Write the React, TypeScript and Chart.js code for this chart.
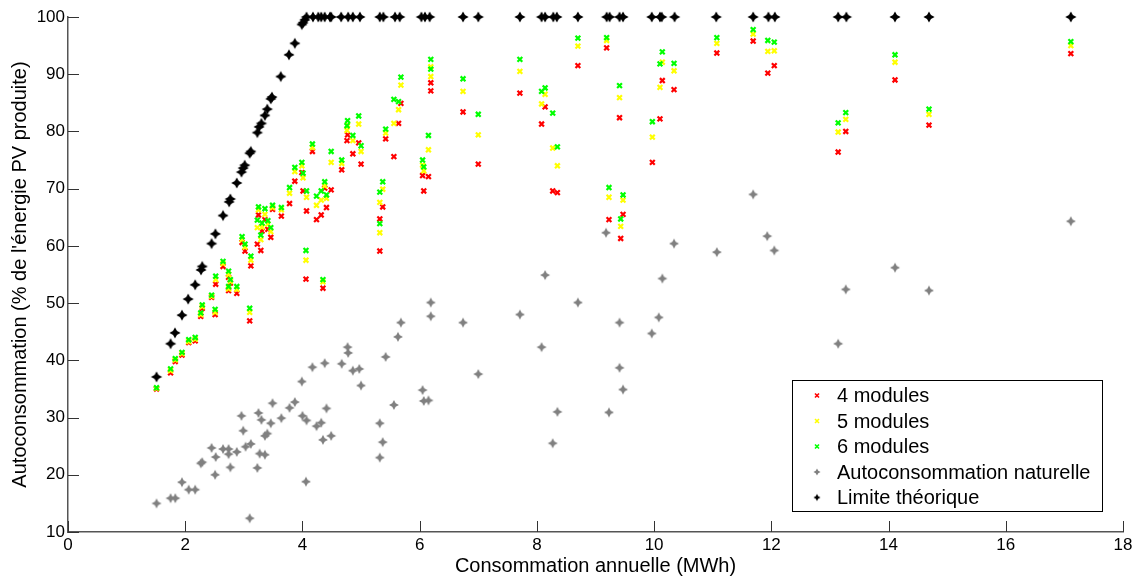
import React, { useEffect, useRef } from "react";
import { Chart, registerables } from "chart.js";

Chart.register(...registerables);

// ---------- Data ----------
const xTickValues = [0, 2, 4, 6, 8, 10, 12, 14, 16, 18];
const yTickValues = [10, 20, 30, 40, 50, 60, 70, 80, 90, 100];

const householdX = [
  1.51, 1.75, 1.83, 1.945, 2.06, 2.17, 2.265, 2.29, 2.45, 2.51,
  2.52, 2.645, 2.74, 2.77, 2.74, 2.88, 2.97, 3.02, 3.1, 3.12,
  3.23, 3.25, 3.29, 3.31, 3.36, 3.41, 3.46, 3.49, 3.64, 3.78,
  3.87, 3.99, 4.01, 4.07, 4.06, 4.17, 4.24, 4.32, 4.35, 4.38,
  4.41, 4.49, 4.67, 4.77, 4.76, 4.86, 4.96, 5.0, 5.37, 5.32,
  5.32, 5.42, 5.56, 5.64, 5.68, 6.05, 6.07, 6.15, 6.19, 6.19,
  6.74, 7.0, 7.71, 8.08, 8.14, 8.27, 8.35, 8.7, 9.19, 9.23,
  9.41, 9.43, 9.47, 9.97, 10.1, 10.14, 10.34, 11.07, 11.69, 11.94,
  12.05, 13.14, 13.27, 14.11, 14.69, 17.11,
];

const modules4 = [
  35.0, 37.8, 39.8, 40.9, 43.1, 43.4, 47.7, 49.1, 51.0, 48.0,
  53.3, 56.4, 54.5, 53.5, 52.2, 51.7, 60.6, 59.1, 46.9, 56.5,
  60.3, 65.4, 59.2, 62.6, 64.6, 62.9, 61.5, 66.4, 65.2, 67.4,
  71.3, 72.8, 69.6, 66.1, 54.2, 76.5, 64.6, 65.4, 52.6, 70.1,
  66.7, 69.8, 73.3, 79.4, 78.4, 76.1, 78.0, 74.3, 66.8, 64.7,
  59.1, 78.7, 75.6, 81.4, 84.9, 72.3, 69.6, 72.1, 88.5, 87.1,
  83.4, 74.3, 86.7, 81.3, 84.3, 69.6, 69.3, 91.5, 94.6, 64.6,
  82.4, 61.3, 65.5, 74.6, 82.2, 88.9, 87.3, 93.7, 95.8, 90.2,
  91.5, 76.4, 80.0, 89.0, 81.1, 93.6,
];

const modules5 = [
  35.1, 38.2, 40.1, 41.2, 43.3, 43.7, 48.0, 49.4, 51.2, 48.4,
  54.1, 56.9, 55.0, 53.8, 52.5, 52.4, 61.1, 59.8, 48.4, 57.5,
  63.2, 66.3, 61.1, 63.3, 65.5, 63.8, 62.5, 66.7, 66.3, 69.2,
  73.0, 74.0, 71.9, 68.5, 57.5, 77.2, 67.1, 68.0, 53.7, 70.5,
  68.3, 74.6, 74.4, 81.1, 80.2, 78.4, 81.3, 76.5, 69.9, 67.6,
  62.3, 79.7, 81.4, 83.8, 88.1, 74.1, 73.1, 76.8, 91.3, 89.6,
  87.0, 79.4, 90.5, 84.8, 86.5, 77.1, 74.0, 94.9, 95.9, 68.5,
  85.9, 63.4, 68.0, 79.0, 87.7, 92.1, 90.6, 95.4, 97.0, 94.0,
  94.1, 79.9, 82.1, 92.1, 83.0, 95.0,
];

const modules6 = [
  35.2, 38.5, 40.3, 41.4, 43.6, 44.0, 48.3, 49.7, 51.4, 48.9,
  54.7, 57.3, 55.6, 54.1, 52.9, 52.9, 61.6, 60.3, 49.1, 58.2,
  64.5, 66.8, 61.9, 64.0, 66.5, 64.4, 63.2, 67.1, 66.7, 70.2,
  73.7, 74.6, 72.7, 69.6, 59.2, 77.8, 68.7, 69.6, 54.1, 71.2,
  68.9, 76.5, 75.0, 81.9, 81.0, 79.3, 82.7, 77.5, 71.2, 69.4,
  63.9, 80.4, 85.6, 85.2, 89.5, 75.0, 73.8, 79.3, 92.6, 90.9,
  89.2, 83.0, 92.6, 87.0, 87.6, 83.2, 77.3, 96.3, 96.4, 70.2,
  88.0, 64.7, 68.9, 81.7, 91.8, 93.9, 91.9, 96.4, 97.8, 95.9,
  95.6, 81.5, 83.3, 93.4, 83.9, 95.7,
];

const naturelleX = [
  1.51, 1.75, 1.83, 1.945, 2.06, 2.17, 2.265, 2.29, 2.45, 2.51,
  2.52, 2.645, 2.74, 2.74, 2.77, 2.88, 2.96, 2.99, 3.03, 3.1,
  3.12, 3.23, 3.25, 3.3, 3.27, 3.36, 3.36, 3.4, 3.46, 3.49,
  3.64, 3.78, 3.87, 3.99, 4.0, 4.07, 4.06, 4.17, 4.24, 4.32,
  4.35, 4.38, 4.41, 4.49, 4.67, 4.77, 4.78, 4.86, 4.97, 5.0,
  5.32, 5.37, 5.32, 5.42, 5.56, 5.63, 5.68, 6.05, 6.07, 6.15,
  6.19, 6.19, 6.74, 7.0, 7.71, 8.08, 8.14, 8.27, 8.35, 8.7,
  9.18, 9.23, 9.41, 9.41, 9.47, 9.96, 10.08, 10.14, 10.34, 11.07,
  11.69, 11.93, 12.05, 13.14, 13.27, 14.11, 14.69, 17.11,
];
const naturelleY = [
  15.0, 15.9, 15.9, 18.7, 17.4, 17.4, 22.0, 22.2, 24.7, 20.0,
  23.1, 24.5, 24.5, 23.6, 21.3, 24.0, 30.3, 27.7, 24.9, 12.4,
  25.4, 21.2, 30.8, 29.6, 23.7, 23.5, 26.8, 27.2, 29.0, 32.5,
  29.9, 31.7, 32.7, 36.3, 30.3, 29.5, 18.8, 38.8, 28.5, 29.1,
  26.1, 39.5, 31.6, 26.8, 39.4, 42.3, 41.3, 38.2, 38.5, 35.6,
  29.0, 25.7, 23.0, 40.6, 32.2, 44.1, 46.6, 34.8, 32.9, 33.0,
  50.1, 47.7, 46.6, 37.6, 48.0, 42.3, 54.9, 25.5, 31.0, 50.1,
  62.3, 30.9, 46.6, 38.7, 34.9, 44.7, 47.5, 54.3, 60.4, 58.9,
  69.0, 61.7, 59.2, 42.9, 52.4, 56.2, 52.2, 64.3,
];

const limiteX = [
  1.51, 1.75, 1.825, 1.945, 2.05, 2.17, 2.27, 2.29, 2.45, 2.515,
  2.645, 2.75, 2.77, 2.88, 2.96, 2.99, 3.015, 3.1, 3.12, 3.23,
  3.26, 3.3, 3.36, 3.4, 3.46, 3.48, 3.63, 3.77, 3.87, 3.99,
  4.01, 4.04,
  4.07, 4.18, 4.27, 4.32, 4.38, 4.47, 4.49, 4.66, 4.78, 4.86,
  4.98, 5.32, 5.38, 5.58, 5.66, 6.03, 6.09, 6.17, 6.74, 7.0,
  7.71, 8.08, 8.14, 8.28, 8.34, 8.7, 9.19, 9.24, 9.41, 9.47,
  9.96, 10.1, 10.13, 10.35, 11.06, 11.69, 11.95, 12.06, 13.14, 13.28,
  14.11, 14.69, 17.11,
];
const limiteY = [
  37.1, 42.9, 44.8, 47.9, 50.7, 53.2, 55.8, 56.4, 60.4, 62.1,
  65.3, 67.7, 68.2, 71.0, 72.9, 73.6, 74.1, 76.2, 76.5, 79.8,
  80.8, 81.4, 82.8, 83.9, 85.7, 86.0, 89.6, 93.4, 95.4, 98.7,
  99.0, 99.5,
  100, 100, 100, 100, 100, 100, 100, 100, 100, 100,
  100, 100, 100, 100, 100, 100, 100, 100, 100, 100,
  100, 100, 100, 100, 100, 100, 100, 100, 100, 100,
  100, 100, 100, 100, 100, 100, 100, 100, 100, 100,
  100, 100, 100,
];

const seriesLabels = [
  "4 modules",
  "5 modules",
  "6 modules",
  "Autoconsommation naturelle",
  "Limite théorique",
];
const xTitle = "Consommation annuelle (MWh)";
const yTitle = "Autoconsommation (% de l'énergie PV produite)";

const FONT = '"Liberation Sans", Arial, Helvetica, sans-serif';

function makeStar(color: string, R: number, innerRatio: number): HTMLCanvasElement {
  const c = document.createElement("canvas");
  const s = Math.ceil(2 * R + 2);
  c.width = s;
  c.height = s;
  const ctx = c.getContext("2d")!;
  const cx = s / 2;
  const cy = s / 2;
  const r = R * innerRatio;
  ctx.fillStyle = color;
  ctx.beginPath();
  for (let k = 0; k < 8; k++) {
    const a = (k * Math.PI) / 4 - Math.PI / 2;
    const rr = k % 2 === 0 ? R : r;
    const px = cx + rr * Math.cos(a);
    const py = cy + rr * Math.sin(a);
    if (k === 0) ctx.moveTo(px, py);
    else ctx.lineTo(px, py);
  }
  ctx.closePath();
  ctx.fill();
  return c;
}

function pairs(xs: number[], ys: number[]) {
  return xs.map((x, i) => ({ x, y: ys[i] }));
}

export default function App() {
  const ref = useRef<HTMLCanvasElement>(null);

  useEffect(() => {
    const blackStar = makeStar("#000000", 5.6, 0.5);
    const grayStar = makeStar("#808080", 5.0, 0.48);
    const blackStarSmall = makeStar("#000000", 3.6, 0.5);
    const grayStarSmall = makeStar("#808080", 3.6, 0.5);

    const legendMarkers: any[] = [
      { kind: "x", color: "#ff0000" },
      { kind: "x", color: "#ffff00" },
      { kind: "x", color: "#00ff00" },
      { kind: "img", img: grayStarSmall },
      { kind: "img", img: blackStarSmall },
    ];

    const tickPlugin = {
      id: "innerTicks",
      beforeDatasetsDraw(chart: any) {
        const { ctx, chartArea } = chart;
        const xs = chart.scales.x;
        const ys = chart.scales.y;
        ctx.save();
        ctx.strokeStyle = "#333333";
        ctx.lineWidth = 1;
        ctx.beginPath();
        for (const t of xs.ticks) {
          const px = Math.round(xs.getPixelForValue(t.value)) + 0.5;
          ctx.moveTo(px, chartArea.bottom);
          ctx.lineTo(px, chartArea.bottom - 11);
        }
        for (const t of ys.ticks) {
          const py = Math.round(ys.getPixelForValue(t.value)) + 0.5;
          ctx.moveTo(chartArea.left, py);
          ctx.lineTo(chartArea.left + 11, py);
        }
        ctx.stroke();
        ctx.restore();
      },
    };

    const legendPlugin = {
      id: "boxLegend",
      afterDraw(chart: any) {
        const { ctx, chartArea } = chart;
        const w = 310;
        const h = 131;
        const right = chartArea.right - 21;
        const bottom = chartArea.bottom - 21;
        const left = right - w;
        const top = bottom - h;
        ctx.save();
        ctx.fillStyle = "#ffffff";
        ctx.fillRect(left, top, w, h);
        ctx.strokeStyle = "#000000";
        ctx.lineWidth = 1;
        ctx.strokeRect(Math.round(left) + 0.5, Math.round(top) + 0.5, w, h);
        ctx.font = "20px " + FONT;
        ctx.textBaseline = "middle";
        ctx.textAlign = "left";
        seriesLabels.forEach((label, i) => {
          const y = top + 15.5 + i * 25.5;
          const mx = left + 25;
          const m = legendMarkers[i];
          if (m.kind === "x") {
            ctx.strokeStyle = m.color;
            ctx.lineWidth = 1.6;
            ctx.beginPath();
            ctx.moveTo(mx - 2, y - 2);
            ctx.lineTo(mx + 2, y + 2);
            ctx.moveTo(mx + 2, y - 2);
            ctx.lineTo(mx - 2, y + 2);
            ctx.stroke();
          } else {
            ctx.drawImage(m.img, mx - m.img.width / 2, y - m.img.height / 2);
          }
          ctx.fillStyle = "#000000";
          ctx.fillText(label, left + 45, y + 1);
        });
        ctx.restore();
      },
    };

    const crossDs = (label: string, ys: number[], color: string, order: number) => ({
      label,
      data: pairs(householdX, ys),
      pointStyle: "crossRot",
      pointRadius: 3.4,
      pointBorderWidth: 2.2,
      borderColor: color,
      backgroundColor: color,
      pointHoverRadius: 3.4,
      clip: false as any,
      order,
    });

    const chart = new Chart(ref.current!, {
      type: "scatter",
      data: {
        datasets: [
          crossDs(seriesLabels[0], modules4, "#ff0000", 5),
          crossDs(seriesLabels[1], modules5, "#ffff00", 4),
          crossDs(seriesLabels[2], modules6, "#00ff00", 3),
          {
            label: seriesLabels[3],
            data: pairs(naturelleX, naturelleY),
            pointStyle: grayStar as any,
            pointRadius: 4,
            borderColor: "#808080",
            backgroundColor: "#808080",
            clip: false as any,
            order: 2,
          },
          {
            label: seriesLabels[4],
            data: pairs(limiteX, limiteY),
            pointStyle: blackStar as any,
            pointRadius: 4,
            borderColor: "#000000",
            backgroundColor: "#000000",
            clip: false as any,
            order: 1,
          },
        ],
      },
      options: {
        responsive: false,
        animation: false,
        devicePixelRatio: 1,
        layout: { padding: { top: 17, right: 17, left: 0, bottom: 0 } },
        plugins: {
          legend: { display: false },
          tooltip: { enabled: false },
        },
        events: [],
        scales: {
          x: {
            type: "linear",
            min: 0,
            max: 18,
            afterBuildTicks: (s: any) => {
              s.ticks = xTickValues.map((v) => ({ value: v }));
            },
            afterFit: (s: any) => {
              s.height = 48;
            },
            ticks: {
              color: "#000000",
              font: { family: FONT, size: 17 },
              padding: 3,
              maxRotation: 0,
            },
            grid: { display: false, drawTicks: false },
            border: { display: true, color: "#555555", width: 1.5 },
            title: {
              display: true,
              text: xTitle,
              color: "#000000",
              font: { family: FONT, size: 20, lineHeight: 1.2 },
              padding: { top: 0, bottom: 2 },
            },
          },
          y: {
            type: "linear",
            min: 10,
            max: 100,
            afterBuildTicks: (s: any) => {
              s.ticks = yTickValues.map((v) => ({ value: v }));
            },
            afterFit: (s: any) => {
              s.width = 68;
            },
            ticks: {
              color: "#000000",
              font: { family: FONT, size: 17 },
              padding: 3,
            },
            grid: { display: false, drawTicks: false },
            border: { display: true, color: "#555555", width: 1.5 },
            title: {
              display: true,
              text: yTitle,
              color: "#000000",
              font: { family: FONT, size: 20, lineHeight: 1.2 },
              padding: { top: 8, bottom: 0 },
            },
          },
        },
      },
      plugins: [tickPlugin, legendPlugin],
    });

    return () => chart.destroy();
  }, []);

  return (
    <div
      style={{
        position: "fixed",
        left: 0,
        top: 0,
        width: 1140,
        height: 580,
        background: "#ffffff",
      }}
    >
      <canvas
        ref={ref}
        width={1140}
        height={580}
        style={{ width: 1140, height: 580, display: "block" }}
      />
    </div>
  );
}
